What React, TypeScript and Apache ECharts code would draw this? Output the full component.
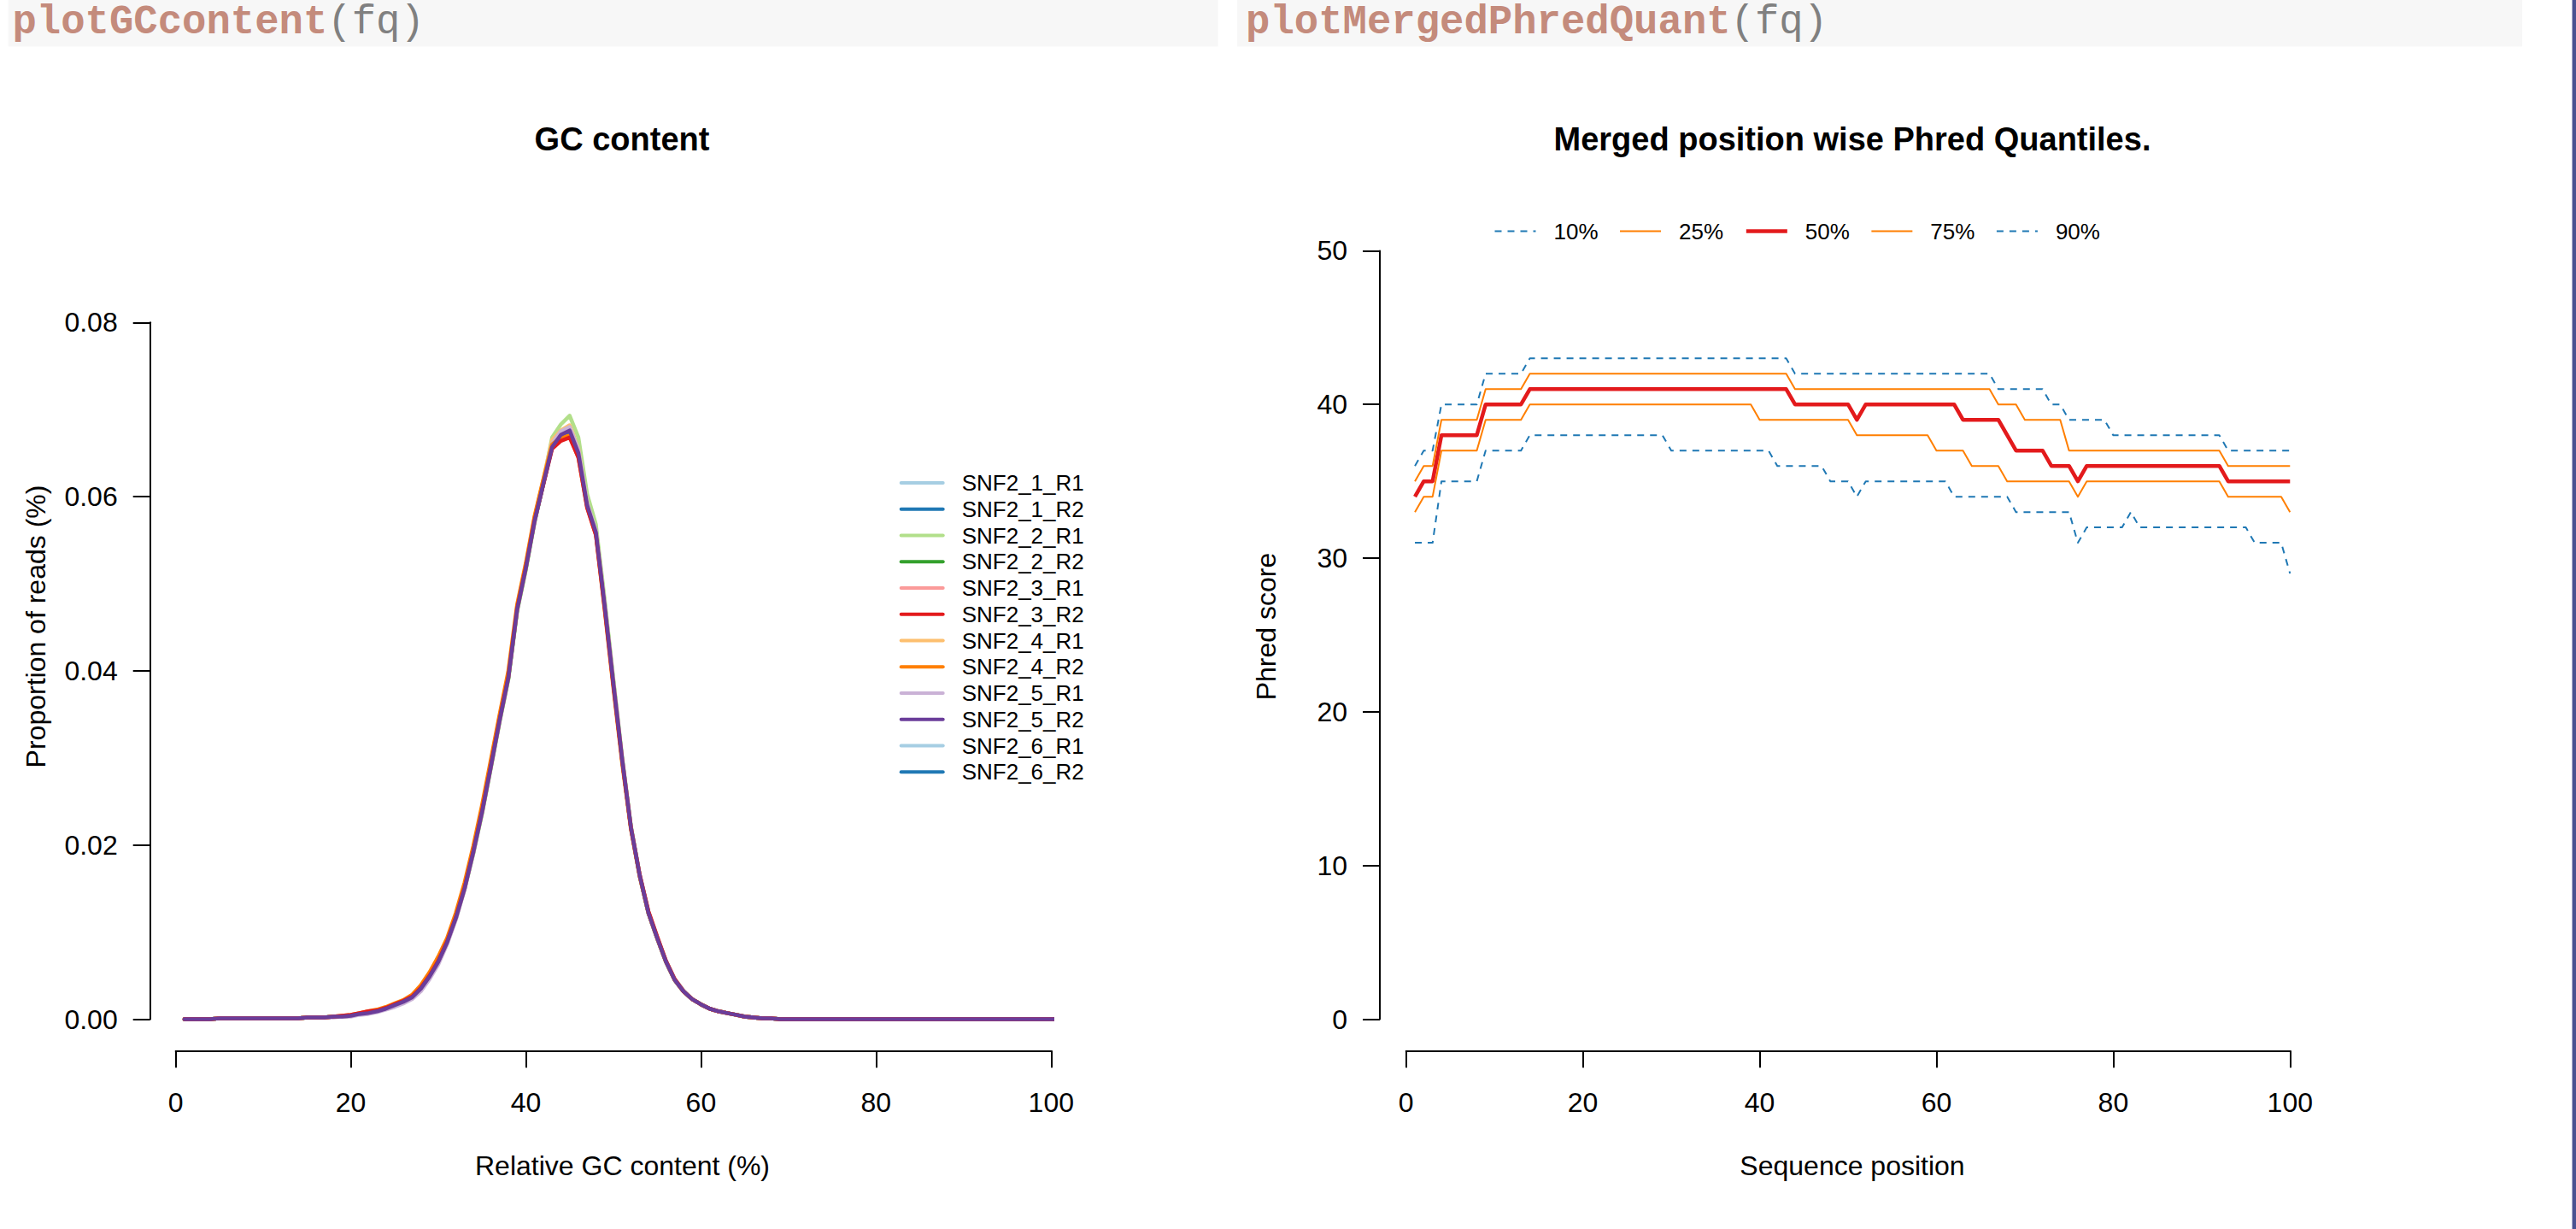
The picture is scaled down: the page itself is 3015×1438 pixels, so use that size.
import React, { useEffect, useRef } from "react";
import * as echarts from "echarts";

const FONT = '"Liberation Sans", Arial, Helvetica, sans-serif';
const MONO = '"Liberation Mono", "Courier New", monospace';

// ---------------- GC content (left panel) ----------------
const gcPositions = Array.from({ length: 101 }, (_, i) => i + 1);
const gcTickStep = 0.02;
const gcYMax = 0.08;

// x = 69 .. 101 : all samples are ~0
const gcTail = [
  0, 0, 0, 0, 0, 0, 0, 0, 0, 0, 0, 0, 0, 0, 0, 0, 0, 0, 0, 0, 0, 0, 0, 0, 0, 0, 0, 0, 0, 0, 0, 0, 0,
];

const gcSNF2_1_R1 = [
  0, 0, 0, 0, 0.0001, 0.0001, 0.0001, 0.0001, 0.0001, 0.0001,
  0.0001, 0.0001, 0.0001, 0.0001, 0.0002, 0.0002, 0.0002, 0.0003, 0.0003, 0.0004,
  0.0006, 0.0007, 0.0009, 0.0012, 0.0016, 0.0021, 0.0026, 0.0036, 0.005, 0.0067,
  0.0089, 0.0117, 0.0151, 0.0193, 0.024, 0.0292, 0.0345, 0.0394, 0.0472, 0.052,
  0.0575, 0.0618, 0.066, 0.0674, 0.0679, 0.0653, 0.0592, 0.0561, 0.0477, 0.0387,
  0.0299, 0.0221, 0.0166, 0.0123, 0.0094, 0.0067, 0.0046, 0.0033, 0.0023, 0.0017,
  0.0012, 0.0009, 0.0007, 0.0005, 0.0003, 0.0002, 0.0001, 0.0001,
  ...gcTail,
];
const gcSNF2_1_R2 = [
  0, 0, 0, 0, 0.0001, 0.0001, 0.0001, 0.0001, 0.0001, 0.0001,
  0.0001, 0.0001, 0.0001, 0.0001, 0.0002, 0.0002, 0.0002, 0.0003, 0.0003, 0.0004,
  0.0006, 0.0007, 0.0009, 0.0012, 0.0016, 0.002, 0.0025, 0.0035, 0.0049, 0.0066,
  0.0088, 0.0116, 0.015, 0.0192, 0.0239, 0.0291, 0.0344, 0.0393, 0.0471, 0.0519,
  0.0573, 0.0616, 0.0658, 0.0672, 0.0677, 0.0651, 0.0591, 0.056, 0.0476, 0.0386,
  0.0298, 0.022, 0.0165, 0.0122, 0.0093, 0.0066, 0.0045, 0.0032, 0.0023, 0.0017,
  0.0012, 0.0009, 0.0007, 0.0005, 0.0003, 0.0002, 0.0001, 0.0001,
  ...gcTail,
];
const gcSNF2_2_R1 = [
  0, 0, 0, 0, 0.0001, 0.0001, 0.0001, 0.0001, 0.0001, 0.0001,
  0.0001, 0.0001, 0.0001, 0.0001, 0.0002, 0.0002, 0.0002, 0.0003, 0.0003, 0.0004,
  0.0006, 0.0007, 0.0009, 0.0012, 0.0016, 0.002, 0.0025, 0.0034, 0.0048, 0.0065,
  0.0087, 0.0115, 0.0149, 0.019, 0.0236, 0.0288, 0.0341, 0.039, 0.0468, 0.0516,
  0.057, 0.0618, 0.0668, 0.0683, 0.0693, 0.0668, 0.0603, 0.0568, 0.0482, 0.039,
  0.0301, 0.0222, 0.0166, 0.0123, 0.0094, 0.0067, 0.0046, 0.0033, 0.0023, 0.0017,
  0.0012, 0.0009, 0.0007, 0.0005, 0.0003, 0.0002, 0.0001, 0.0001,
  ...gcTail,
];
const gcSNF2_2_R2 = [
  0, 0, 0, 0, 0.0001, 0.0001, 0.0001, 0.0001, 0.0001, 0.0001,
  0.0001, 0.0001, 0.0001, 0.0001, 0.0002, 0.0002, 0.0002, 0.0003, 0.0003, 0.0004,
  0.0006, 0.0007, 0.0009, 0.0012, 0.0016, 0.002, 0.0025, 0.0035, 0.0049, 0.0066,
  0.0088, 0.0116, 0.015, 0.0191, 0.0237, 0.0289, 0.0342, 0.0391, 0.0469, 0.0517,
  0.0572, 0.0615, 0.066, 0.0675, 0.068, 0.0655, 0.0595, 0.0562, 0.0478, 0.0388,
  0.0299, 0.0221, 0.0165, 0.0122, 0.0093, 0.0066, 0.0045, 0.0032, 0.0023, 0.0017,
  0.0012, 0.0009, 0.0007, 0.0005, 0.0003, 0.0002, 0.0001, 0.0001,
  ...gcTail,
];
const gcSNF2_3_R1 = [
  0, 0, 0, 0, 0.0001, 0.0001, 0.0001, 0.0001, 0.0001, 0.0001,
  0.0001, 0.0001, 0.0001, 0.0001, 0.0002, 0.0002, 0.0002, 0.0003, 0.0003, 0.0004,
  0.0006, 0.0007, 0.0009, 0.0012, 0.0016, 0.002, 0.0025, 0.0035, 0.0049, 0.0066,
  0.0088, 0.0116, 0.015, 0.0192, 0.0238, 0.029, 0.0343, 0.0392, 0.047, 0.0519,
  0.0574, 0.0616, 0.0659, 0.0672, 0.0677, 0.0651, 0.059, 0.0558, 0.0474, 0.0385,
  0.0298, 0.022, 0.0165, 0.0122, 0.0093, 0.0066, 0.0045, 0.0032, 0.0023, 0.0017,
  0.0012, 0.0009, 0.0007, 0.0005, 0.0003, 0.0002, 0.0001, 0.0001,
  ...gcTail,
];
const gcSNF2_3_R2 = [
  0, 0, 0, 0, 0.0001, 0.0001, 0.0001, 0.0001, 0.0001, 0.0001,
  0.0001, 0.0001, 0.0001, 0.0001, 0.0002, 0.0002, 0.0002, 0.0003, 0.0004, 0.0005,
  0.0007, 0.0009, 0.001, 0.0013, 0.0017, 0.0021, 0.0026, 0.0036, 0.005, 0.0067,
  0.0089, 0.0117, 0.0151, 0.0193, 0.0239, 0.0291, 0.0344, 0.0393, 0.0471, 0.0519,
  0.0573, 0.0614, 0.0655, 0.0664, 0.0668, 0.0645, 0.0587, 0.0556, 0.0472, 0.0383,
  0.0297, 0.022, 0.0166, 0.0124, 0.0095, 0.0067, 0.0046, 0.0032, 0.0023, 0.0017,
  0.0012, 0.0009, 0.0007, 0.0005, 0.0003, 0.0002, 0.0001, 0.0001,
  ...gcTail,
];
const gcSNF2_4_R1 = [
  0, 0, 0, 0, 0.0001, 0.0001, 0.0001, 0.0001, 0.0001, 0.0001,
  0.0001, 0.0001, 0.0001, 0.0001, 0.0002, 0.0002, 0.0002, 0.0003, 0.0003, 0.0004,
  0.0006, 0.0007, 0.0009, 0.0012, 0.0016, 0.002, 0.0026, 0.0036, 0.005, 0.0068,
  0.009, 0.0118, 0.0152, 0.0195, 0.0242, 0.0294, 0.0347, 0.0396, 0.0473, 0.0521,
  0.0576, 0.062, 0.0665, 0.0676, 0.0682, 0.0655, 0.0592, 0.056, 0.0476, 0.0386,
  0.0298, 0.022, 0.0165, 0.0122, 0.0093, 0.0066, 0.0045, 0.0032, 0.0023, 0.0017,
  0.0012, 0.0009, 0.0007, 0.0005, 0.0003, 0.0002, 0.0001, 0.0001,
  ...gcTail,
];
const gcSNF2_4_R2 = [
  0, 0, 0, 0, 0.0001, 0.0001, 0.0001, 0.0001, 0.0001, 0.0001,
  0.0001, 0.0001, 0.0001, 0.0001, 0.0002, 0.0002, 0.0002, 0.0003, 0.0004, 0.0005,
  0.0007, 0.0009, 0.0011, 0.0014, 0.0018, 0.0022, 0.0028, 0.0039, 0.0054, 0.0072,
  0.0093, 0.0122, 0.0157, 0.0199, 0.0246, 0.0298, 0.035, 0.04, 0.0476, 0.0524,
  0.0578, 0.062, 0.066, 0.0668, 0.067, 0.0645, 0.0588, 0.0556, 0.047, 0.038,
  0.0294, 0.0218, 0.0164, 0.0122, 0.0093, 0.0066, 0.0045, 0.0032, 0.0023, 0.0017,
  0.0012, 0.0009, 0.0007, 0.0005, 0.0003, 0.0002, 0.0001, 0.0001,
  ...gcTail,
];
const gcSNF2_5_R1 = [
  0, 0, 0, 0, 0.0001, 0.0001, 0.0001, 0.0001, 0.0001, 0.0001,
  0.0001, 0.0001, 0.0001, 0.0001, 0.0002, 0.0002, 0.0002, 0.0002, 0.0003, 0.0003,
  0.0005, 0.0006, 0.0008, 0.0011, 0.0014, 0.0018, 0.0023, 0.0032, 0.0046, 0.0063,
  0.0086, 0.0114, 0.0149, 0.0191, 0.0238, 0.029, 0.0343, 0.0393, 0.0471, 0.0519,
  0.0572, 0.0616, 0.0661, 0.0675, 0.068, 0.0654, 0.0593, 0.0561, 0.0477, 0.0387,
  0.0299, 0.0221, 0.0166, 0.0123, 0.0094, 0.0067, 0.0046, 0.0033, 0.0023, 0.0017,
  0.0012, 0.0009, 0.0007, 0.0005, 0.0003, 0.0002, 0.0001, 0.0001,
  ...gcTail,
];
const gcSNF2_5_R2 = [
  0, 0, 0, 0, 0.0001, 0.0001, 0.0001, 0.0001, 0.0001, 0.0001,
  0.0001, 0.0001, 0.0001, 0.0001, 0.0002, 0.0002, 0.0002, 0.0003, 0.0003, 0.0004,
  0.0006, 0.0007, 0.0009, 0.0012, 0.0016, 0.002, 0.0025, 0.0035, 0.0049, 0.0066,
  0.0088, 0.0116, 0.015, 0.0192, 0.0238, 0.029, 0.0343, 0.0392, 0.047, 0.0518,
  0.0572, 0.0615, 0.0657, 0.0671, 0.0676, 0.065, 0.059, 0.0559, 0.0475, 0.0385,
  0.0298, 0.022, 0.0165, 0.0122, 0.0093, 0.0066, 0.0045, 0.0032, 0.0023, 0.0017,
  0.0012, 0.0009, 0.0007, 0.0005, 0.0003, 0.0002, 0.0001, 0.0001,
  ...gcTail,
];
const gcSNF2_6_R1 = [
  0, 0, 0, 0, 0.0001, 0.0001, 0.0001, 0.0001, 0.0001, 0.0001,
  0.0001, 0.0001, 0.0001, 0.0001, 0.0002, 0.0002, 0.0002, 0.0003, 0.0003, 0.0004,
  0.0006, 0.0007, 0.0009, 0.0012, 0.0016, 0.002, 0.0025, 0.0035, 0.0049, 0.0066,
  0.0088, 0.0116, 0.015, 0.0192, 0.0238, 0.029, 0.0343, 0.0392, 0.047, 0.0518,
  0.0572, 0.0614, 0.0656, 0.067, 0.0675, 0.0649, 0.0589, 0.0558, 0.0474, 0.0385,
  0.0298, 0.022, 0.0165, 0.0122, 0.0093, 0.0066, 0.0045, 0.0032, 0.0023, 0.0017,
  0.0012, 0.0009, 0.0007, 0.0005, 0.0003, 0.0002, 0.0001, 0.0001,
  ...gcTail,
];
const gcSNF2_6_R2 = [
  0, 0, 0, 0, 0.0001, 0.0001, 0.0001, 0.0001, 0.0001, 0.0001,
  0.0001, 0.0001, 0.0001, 0.0001, 0.0002, 0.0002, 0.0002, 0.0003, 0.0003, 0.0004,
  0.0006, 0.0007, 0.0009, 0.0012, 0.0016, 0.002, 0.0025, 0.0035, 0.0049, 0.0066,
  0.0088, 0.0116, 0.015, 0.0192, 0.0238, 0.029, 0.0343, 0.0392, 0.047, 0.0518,
  0.0572, 0.0615, 0.0657, 0.0671, 0.0675, 0.065, 0.059, 0.0559, 0.0475, 0.0385,
  0.0298, 0.022, 0.0165, 0.0122, 0.0093, 0.0066, 0.0045, 0.0032, 0.0023, 0.0017,
  0.0012, 0.0009, 0.0007, 0.0005, 0.0003, 0.0002, 0.0001, 0.0001,
  ...gcTail,
];

const gcNames = [
  "SNF2_1_R1", "SNF2_1_R2", "SNF2_2_R1", "SNF2_2_R2", "SNF2_3_R1", "SNF2_3_R2",
  "SNF2_4_R1", "SNF2_4_R2", "SNF2_5_R1", "SNF2_5_R2", "SNF2_6_R1", "SNF2_6_R2",
];
const gcColors = [
  "#A6CEE3", "#1F78B4", "#B2DF8A", "#33A02C", "#FB9A99", "#E31A1C",
  "#FDBF6F", "#FF7F00", "#CAB2D6", "#6A3D9A", "#A6CEE3", "#1F78B4",
];
const gcValues = [
  gcSNF2_1_R1, gcSNF2_1_R2, gcSNF2_2_R1, gcSNF2_2_R2, gcSNF2_3_R1, gcSNF2_3_R2,
  gcSNF2_4_R1, gcSNF2_4_R2, gcSNF2_5_R1, gcSNF2_5_R2, gcSNF2_6_R1, gcSNF2_6_R2,
];
// drawing order (last on top): SNF2_5_R2 ends up on top as in the reference
const gcDrawOrder = [10, 11, 0, 1, 3, 4, 2, 6, 8, 7, 5, 9];

// ---------------- Merged Phred quantiles (right panel) ----------------
const phredPositions = Array.from({ length: 100 }, (_, i) => i + 1);
const q10 = [
  31, 31, 31, 35, 35, 35, 35, 35, 37, 37,
  37, 37, 37, 38, 38, 38, 38, 38, 38, 38,
  38, 38, 38, 38, 38, 38, 38, 38, 38, 37,
  37, 37, 37, 37, 37, 37, 37, 37, 37, 37,
  37, 36, 36, 36, 36, 36, 36, 35, 35, 35,
  34, 35, 35, 35, 35, 35, 35, 35, 35, 35,
  35, 34, 34, 34, 34, 34, 34, 34, 33, 33,
  33, 33, 33, 33, 33, 31, 32, 32, 32, 32,
  32, 33, 32, 32, 32, 32, 32, 32, 32, 32,
  32, 32, 32, 32, 32, 31, 31, 31, 31, 29,
];
const q25 = [
  33, 34, 34, 37, 37, 37, 37, 37, 39, 39,
  39, 39, 39, 40, 40, 40, 40, 40, 40, 40,
  40, 40, 40, 40, 40, 40, 40, 40, 40, 40,
  40, 40, 40, 40, 40, 40, 40, 40, 40, 39,
  39, 39, 39, 39, 39, 39, 39, 39, 39, 39,
  38, 38, 38, 38, 38, 38, 38, 38, 38, 37,
  37, 37, 37, 36, 36, 36, 36, 35, 35, 35,
  35, 35, 35, 35, 35, 34, 35, 35, 35, 35,
  35, 35, 35, 35, 35, 35, 35, 35, 35, 35,
  35, 35, 34, 34, 34, 34, 34, 34, 34, 33,
];
const q50 = [
  34, 35, 35, 38, 38, 38, 38, 38, 40, 40,
  40, 40, 40, 41, 41, 41, 41, 41, 41, 41,
  41, 41, 41, 41, 41, 41, 41, 41, 41, 41,
  41, 41, 41, 41, 41, 41, 41, 41, 41, 41,
  41, 41, 41, 40, 40, 40, 40, 40, 40, 40,
  39, 40, 40, 40, 40, 40, 40, 40, 40, 40,
  40, 40, 39, 39, 39, 39, 39, 38, 37, 37,
  37, 37, 36, 36, 36, 35, 36, 36, 36, 36,
  36, 36, 36, 36, 36, 36, 36, 36, 36, 36,
  36, 36, 35, 35, 35, 35, 35, 35, 35, 35,
];
const q75 = [
  35, 36, 36, 39, 39, 39, 39, 39, 41, 41,
  41, 41, 41, 42, 42, 42, 42, 42, 42, 42,
  42, 42, 42, 42, 42, 42, 42, 42, 42, 42,
  42, 42, 42, 42, 42, 42, 42, 42, 42, 42,
  42, 42, 42, 41, 41, 41, 41, 41, 41, 41,
  41, 41, 41, 41, 41, 41, 41, 41, 41, 41,
  41, 41, 41, 41, 41, 41, 40, 40, 40, 39,
  39, 39, 39, 39, 37, 37, 37, 37, 37, 37,
  37, 37, 37, 37, 37, 37, 37, 37, 37, 37,
  37, 37, 36, 36, 36, 36, 36, 36, 36, 36,
];
const q90 = [
  36, 37, 37, 40, 40, 40, 40, 40, 42, 42,
  42, 42, 42, 43, 43, 43, 43, 43, 43, 43,
  43, 43, 43, 43, 43, 43, 43, 43, 43, 43,
  43, 43, 43, 43, 43, 43, 43, 43, 43, 43,
  43, 43, 43, 42, 42, 42, 42, 42, 42, 42,
  42, 42, 42, 42, 42, 42, 42, 42, 42, 42,
  42, 42, 42, 42, 42, 42, 41, 41, 41, 41,
  41, 41, 40, 40, 39, 39, 39, 39, 39, 38,
  38, 38, 38, 38, 38, 38, 38, 38, 38, 38,
  38, 38, 37, 37, 37, 37, 37, 37, 37, 37,
];
const quantNames = ["10%", "25%", "50%", "75%", "90%"];
const quantValues = [q10, q25, q50, q75, q90];
const quantColors = ["#1F78B4", "#FF7F00", "#E31A1C", "#FF7F00", "#1F78B4"];
const quantWidths = [2, 2, 4.5, 2, 2];
const quantDashed = [true, false, false, false, true];
const DASH = [8, 7];

const axisLineStyle = { color: "#000", width: 2 };

function buildOption() {
  const gcSeries = gcDrawOrder.map((k) => ({
    type: "line",
    name: gcNames[k],
    xAxisIndex: 0,
    yAxisIndex: 0,
    data: gcPositions.map((x, i) => [x, gcValues[k][i]]),
    symbol: "none",
    clip: false,
    silent: true,
    lineStyle: { width: 4.5, color: gcColors[k], cap: "round", join: "round" },
    itemStyle: { color: gcColors[k] },
    emphasis: { disabled: true },
  }));
  const qSeries = quantNames.map((n, k) => ({
    type: "line",
    name: n,
    xAxisIndex: 1,
    yAxisIndex: 1,
    data: phredPositions.map((x, i) => [x, quantValues[k][i]]),
    symbol: "none",
    clip: false,
    silent: true,
    lineStyle: {
      width: quantWidths[k],
      color: quantColors[k],
      type: quantDashed[k] ? DASH : "solid",
      join: "round",
    },
    itemStyle: { color: quantColors[k] },
    emphasis: { disabled: true },
  }));

  const axisBase = {
    type: "value",
    splitLine: { show: false },
    axisLine: { show: true, onZero: false, lineStyle: axisLineStyle },
    axisTick: { show: true, inside: false, length: 20, lineStyle: axisLineStyle },
  };
  const xLabel = { color: "#000", fontSize: 32, fontFamily: FONT, margin: 45, lineHeight: 32 };
  const yLabel = { color: "#000", fontSize: 32, fontFamily: FONT, margin: 38 };

  const headerText = (text: string, x: number, bold: boolean, color: string) => ({
    type: "text",
    x,
    y: 26,
    silent: true,
    style: {
      text,
      fill: color,
      font: `${bold ? "bold " : ""}47.3px ${MONO}`,
      textAlign: "left",
      textVerticalAlign: "middle",
    },
  });
  const label = (text: string, x: number, y: number, rotate: boolean) => ({
    type: "text",
    x,
    y,
    rotation: rotate ? Math.PI / 2 : 0,
    silent: true,
    style: {
      text,
      fill: "#000",
      font: `32px ${FONT}`,
      textAlign: "center",
      textVerticalAlign: "middle",
    },
  });

  return {
    animation: false,
    backgroundColor: "#ffffff",
    title: [
      {
        text: "GC content",
        left: 728,
        top: 144,
        textAlign: "center",
        padding: 0,
        textStyle: { fontSize: 38, fontWeight: "bold", fontFamily: FONT, color: "#000", lineHeight: 38 },
      },
      {
        text: "Merged position wise Phred Quantiles.",
        left: 2168,
        top: 144,
        textAlign: "center",
        padding: 0,
        textStyle: { fontSize: 38, fontWeight: "bold", fontFamily: FONT, color: "#000", lineHeight: 38 },
      },
    ],
    legend: [
      {
        orient: "vertical",
        left: 1052.7,
        top: 552,
        padding: 0,
        itemWidth: 49,
        itemHeight: 26,
        itemGap: 4.76,
        selectedMode: false,
        data: gcNames.map((n) => ({ name: n })),
        itemStyle: { opacity: 0 },
        lineStyle: { width: 4 },
        textStyle: { fontSize: 26, fontFamily: FONT, color: "#000", lineHeight: 26, padding: [0, 0, 0, 17] },
      },
      {
        orient: "horizontal",
        left: 1748.5,
        top: 257.5,
        padding: 0,
        itemWidth: 48,
        itemHeight: 26,
        itemGap: 24.5,
        selectedMode: false,
        itemStyle: { opacity: 0 },
        data: quantNames.map((n, k) => ({
          name: n,
          lineStyle: { width: quantWidths[k], color: quantColors[k], type: quantDashed[k] ? DASH : "solid" },
        })),
        textStyle: { fontSize: 26, fontFamily: FONT, color: "#000", lineHeight: 26, padding: [0, 0, 0, 16] },
      },
    ],
    grid: [
      { left: 205.6, top: 377.3, width: 1024.7, height: 815.2, outerBoundsMode: "none", containLabel: false },
      { left: 1645.7, top: 293.4, width: 1034.6, height: 899.2, outerBoundsMode: "none", containLabel: false },
    ],
    xAxis: [
      { ...axisBase, gridIndex: 0, min: 0, max: 100, interval: 20, offset: 36.8, axisLabel: xLabel },
      { ...axisBase, gridIndex: 1, min: 0, max: 100, interval: 20, offset: 36.7, axisLabel: xLabel },
    ],
    yAxis: [
      {
        ...axisBase,
        gridIndex: 0,
        min: 0,
        max: gcYMax,
        interval: gcTickStep,
        offset: 29.9,
        axisLabel: { ...yLabel, formatter: (v: number) => v.toFixed(2) },
      },
      { ...axisBase, gridIndex: 1, min: 0, max: 50, interval: 10, offset: 30.7, axisLabel: yLabel },
    ],
    graphic: [
      { type: "rect", silent: true, shape: { x: 9.6, y: 0, width: 1416, height: 54.5 }, style: { fill: "#f7f7f7" } },
      { type: "rect", silent: true, shape: { x: 1448, y: 0, width: 1504, height: 54.5 }, style: { fill: "#f7f7f7" } },
      { type: "rect", silent: true, shape: { x: 3010, y: 0, width: 1, height: 1438 }, style: { fill: "#a9accb" } },
      { type: "rect", silent: true, shape: { x: 3011, y: 0, width: 4, height: 1438 }, style: { fill: "#4a5291" } },
      headerText("plotGCcontent", 14.4, true, "#c48b7c"),
      headerText("(fq)", 14.4 + 13 * 28.38, false, "#808080"),
      headerText("plotMergedPhredQuant", 1458, true, "#c48b7c"),
      headerText("(fq)", 1458 + 20 * 28.38, false, "#808080"),
      label("Proportion of reads (%)", 42, 733, true),
      label("Phred score", 1482, 733, true),
      label("Relative GC content (%)", 728.5, 1364, false),
      label("Sequence position", 2168, 1364, false),
    ],
    series: [...gcSeries, ...qSeries],
  };
}

export default function App() {
  const ref = useRef<HTMLDivElement>(null);
  useEffect(() => {
    if (!ref.current) return;
    const chart = echarts.init(ref.current, null, { renderer: "svg", width: 3015, height: 1438 });
    chart.setOption(buildOption() as any);
    return () => chart.dispose();
  }, []);
  return (
    <div
      ref={ref}
      style={{ position: "absolute", left: 0, top: 0, width: 3015, height: 1438, background: "#fff" }}
    />
  );
}
